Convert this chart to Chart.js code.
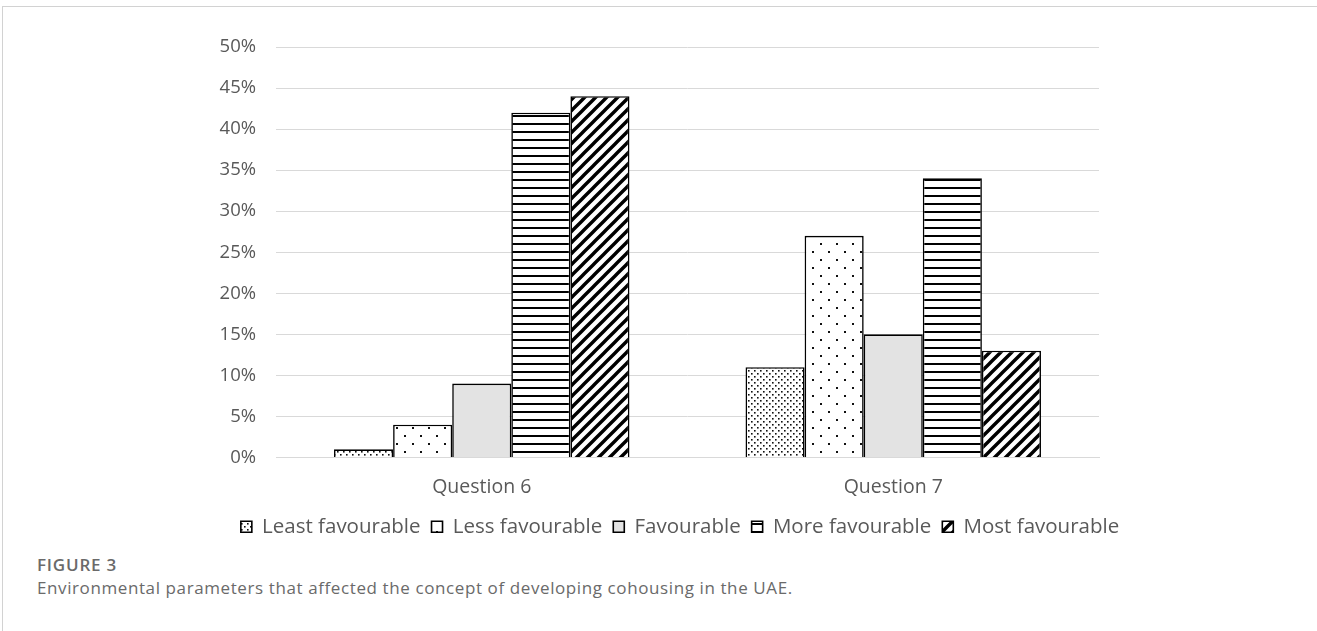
<!DOCTYPE html>
<html>
<head>
<meta charset="utf-8">
<script src="https://cdn.jsdelivr.net/npm/chart.js@4.4.0/dist/chart.umd.min.js"></script>
<style>
  html, body { margin: 0; padding: 0; background: #fff; width: 1317px; height: 631px; overflow: hidden; }
  #frame { position: absolute; left: 2px; top: 6px; width: 1315px; height: 625px;
           border-top: 1px solid #d2d2d2; border-left: 1px solid #d2d2d2; box-sizing: border-box; }
  #wrap { position: absolute; left: 0; top: 0; width: 1317px; height: 547px; }
  .cap { position: absolute; left: 37px; font-family: "Open Sans", sans-serif; color: #6a6a6a; white-space: nowrap; }
</style>
</head>
<body>
<div id="frame"></div>
<div id="wrap"><canvas id="chart"></canvas></div>
<div class="cap" style="top:553px; font-size:17px; font-weight:600; letter-spacing:0.8px;">FIGURE 3</div>
<div class="cap" style="top:576px; font-size:17px; letter-spacing:0.6px;">Environmental parameters that affected the concept of developing cohousing in the UAE.</div>

<script>
// Survey results (percent of respondents)
const categories = ['Question 6', 'Question 7'];
const seriesNames = ['Least favourable', 'Less favourable', 'Favourable', 'More favourable', 'Most favourable'];
const leastFavourable = [1, 11];
const lessFavourable  = [4, 27];
const favourable      = [9, 15];
const moreFavourable  = [42, 34];
const mostFavourable  = [44, 13];
const yTicks = [0, 5, 10, 15, 20, 25, 30, 35, 40, 45, 50];

// Monochrome fill patterns
function makePattern(w, h, draw) {
  const c = document.createElement('canvas');
  c.width = w; c.height = h;
  const g = c.getContext('2d');
  g.fillStyle = '#fff';
  g.fillRect(0, 0, w, h);
  draw(g);
  return g.createPattern(c, 'repeat');
}
const denseDots = makePattern(6, 6, g => {
  g.fillStyle = '#111';
  g.fillRect(1, 1, 1.6, 1.6);
  g.fillRect(4, 4, 1.6, 1.6);
});
const sparseDots = makePattern(16, 16, g => {
  g.fillStyle = '#111';
  g.fillRect(4, 3, 2, 2);
  g.fillRect(12, 11, 2, 2);
});
const hLines = makePattern(8, 8, g => {
  g.fillStyle = '#000';
  g.fillRect(0, 3, 8, 2);
});
const diagLines = makePattern(11, 11, g => {
  g.strokeStyle = '#000';
  g.lineWidth = 3.4;
  g.beginPath();
  g.moveTo(-2, 13); g.lineTo(13, -2);
  g.moveTo(-8, 8);  g.lineTo(8, -8);
  g.moveTo(3, 19);  g.lineTo(19, 3);
  g.stroke();
});

const fills = [denseDots, sparseDots, '#e3e3e3', hLines, diagLines];
const values = [leastFavourable, lessFavourable, favourable, moreFavourable, mostFavourable];

const textColor = '#595959';
const font = '"Open Sans", sans-serif';
const legendCenterX = 680;

// Centre the legend row under the plot rather than the whole canvas
const legendShift = {
  id: 'legendShift',
  afterLayout(chart) {
    const lg = chart.legend;
    if (!lg) return;
    const dx = legendCenterX - (lg.left + lg.right) / 2;
    lg.left += dx;
    lg.right += dx;
  }
};

new Chart(document.getElementById('chart'), {
  type: 'bar',
  data: {
    labels: categories,
    datasets: seriesNames.map((name, i) => ({
      label: name,
      data: values[i],
      backgroundColor: fills[i],
      borderColor: '#000',
      borderWidth: 1.6,
      borderSkipped: 'bottom',
      barPercentage: 1.0,
      categoryPercentage: 0.718
    }))
  },
  plugins: [legendShift],
  options: {
    responsive: true,
    maintainAspectRatio: false,
    animation: false,
    layout: { padding: { top: 47, right: 218, left: 0, bottom: 0 } },
    plugins: {
      tooltip: { enabled: false },
      legend: {
        position: 'bottom',
        labels: {
          boxWidth: 11,
          boxHeight: 11,
          padding: 11,
          color: textColor,
          font: { family: font, size: 20.5 }
        }
      }
    },
    scales: {
      x: {
        grid: { display: false, drawTicks: false },
        border: { color: '#d9d9d9', width: 1 },
        ticks: { color: textColor, padding: 18, font: { family: font, size: 19.5 } },
        afterFit: s => { s.height = 48; }
      },
      y: {
        min: 0,
        max: 50,
        afterBuildTicks: s => { s.ticks = yTicks.map(v => ({ value: v })); },
        grid: { color: '#d9d9d9', lineWidth: 1, drawTicks: false },
        border: { display: false },
        ticks: { color: textColor, padding: 20, font: { family: font, size: 18.5 }, callback: v => v + '%' },
        afterFit: s => { s.width = 276; }
      }
    }
  }
});
</script>
</body>
</html>
